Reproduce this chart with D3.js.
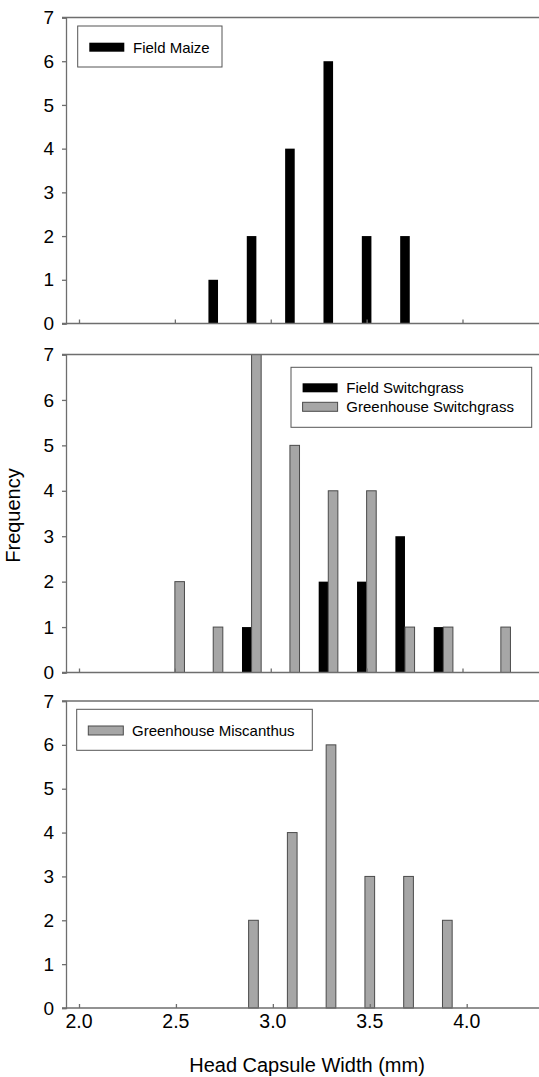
<!DOCTYPE html>
<html>
<head>
<meta charset="utf-8">
<script src="https://cdn.jsdelivr.net/npm/d3@7"></script>
<style>
  body { margin: 0; background: #fff; }
  svg { display: block; font-family: "Liberation Sans", Arial, sans-serif; }
</style>
</head>
<body>
<script>
// head capsule width bins (mm) and frequencies
var maizeWidth = [2.7, 2.9, 3.1, 3.3, 3.5, 3.7],
    maizeFreq = [1, 2, 4, 6, 2, 2];
var fieldSwitchWidth = [2.9, 3.3, 3.5, 3.7, 3.9],
    fieldSwitchFreq = [1, 2, 2, 3, 1];
var ghSwitchWidth = [2.5, 2.7, 2.9, 3.1, 3.3, 3.5, 3.7, 3.9, 4.2],
    ghSwitchFreq = [2, 1, 7, 5, 4, 4, 1, 1, 1];
var miscWidth = [2.9, 3.1, 3.3, 3.5, 3.7, 3.9],
    miscFreq = [2, 4, 6, 3, 3, 2];

var xTicks = [2.0, 2.5, 3.0, 3.5, 4.0],
    yTicks = [0, 1, 2, 3, 4, 5, 6, 7];

var W = 539, H = 1077;
var left = 66, right = 560;
var BLACK = "#000", GREY = "#a6a6a6", AXIS = "#6e6e6e";
var barW = 0.05;

function pairs(xs, ys) { return xs.map(function(d, i) { return {x: d, y: ys[i]}; }); }

var panels = [
  { top: 17.5, bottom: 323.5, x4: 462.5,
    series: [{ name: "Field Maize", fill: BLACK, data: pairs(maizeWidth, maizeFreq), off: -0.5 }],
    legend: { x: 77.7, y: 26, w: 144.3, h: 41 } },
  { top: 354.5, bottom: 672.5, x4: 462.5,
    series: [{ name: "Field Switchgrass", fill: BLACK, data: pairs(fieldSwitchWidth, fieldSwitchFreq), off: -1 },
             { name: "Greenhouse Switchgrass", fill: GREY, data: pairs(ghSwitchWidth, ghSwitchFreq), off: 0 }],
    legend: { x: 291, y: 367.3, w: 240.7, h: 60 } },
  { top: 701, bottom: 1008, x4: 466.7,
    series: [{ name: "Greenhouse Miscanthus", fill: GREY, data: pairs(miscWidth, miscFreq), off: -0.5 }],
    legend: { x: 76.7, y: 709.3, w: 235.6, h: 41 } }
];

var svg = d3.select("body").append("svg")
    .attr("width", W)
    .attr("height", H);

panels.forEach(function(p) {
  var x = d3.scaleLinear().domain([2, 4]).range([79, p.x4]);
  var y = d3.scaleLinear().domain([0, 7]).range([p.bottom, p.top]);
  var g = svg.append("g");

  // bars
  p.series.forEach(function(s) {
    g.selectAll(null)
      .data(s.data)
      .enter().append("rect")
        .attr("x", function(d) { return x(d.x + s.off * barW); })
        .attr("y", function(d) { return y(d.y); })
        .attr("width", x(2 + barW) - x(2))
        .attr("height", function(d) { return y(0) - y(d.y); })
        .attr("fill", s.fill)
        .attr("stroke", s.fill == BLACK ? "none" : "#4a4a4a")
        .attr("stroke-width", 1);
  });

  // y axis
  var ya = g.append("g")
      .attr("transform", "translate(" + left + ",0)")
      .call(d3.axisLeft(y).tickValues(yTicks).tickFormat(d3.format("d")).tickSize(4).tickPadding(8));
  ya.select(".domain").attr("stroke", AXIS).attr("stroke-width", 1.3);
  ya.selectAll(".tick line").attr("stroke", AXIS).attr("stroke-width", 1.3);
  ya.selectAll("text").attr("font-size", 19).attr("fill", "#000")
      .attr("font-family", "'Liberation Sans', Arial, sans-serif");

  // x axis (ticks point inward)
  var xa = g.append("g")
      .attr("transform", "translate(0," + p.bottom + ")")
      .call(d3.axisBottom(x).tickValues(xTicks).tickSize(-4).tickFormat(d3.format(".1f")));
  xa.select(".domain").remove();
  xa.selectAll(".tick line").attr("stroke", AXIS).attr("stroke-width", 1.3);
  xa.selectAll("text").remove();

  g.append("line")
      .attr("x1", left - 4).attr("x2", right)
      .attr("y1", p.bottom).attr("y2", p.bottom)
      .attr("stroke", AXIS).attr("stroke-width", 1.3);
  g.append("line")
      .attr("x1", left - 4).attr("x2", right)
      .attr("y1", p.top).attr("y2", p.top)
      .attr("stroke", AXIS).attr("stroke-width", 1.3);

  // legend
  var L = p.legend;
  var lg = g.append("g").attr("transform", "translate(" + L.x + "," + L.y + ")");
  lg.append("rect")
      .attr("width", L.w).attr("height", L.h)
      .attr("fill", "#fff").attr("stroke", "#555").attr("stroke-width", 1);
  var first = p.series.length == 1 ? 16.7 : 16;
  p.series.forEach(function(s, i) {
    var yy = first + i * 19;
    lg.append("rect")
        .attr("x", 11.6).attr("y", yy).attr("width", 35).attr("height", 9)
        .attr("fill", s.fill)
        .attr("stroke", s.fill == BLACK ? "none" : "#4a4a4a");
    lg.append("text")
        .attr("x", 55.3).attr("y", yy + 10)
        .attr("font-size", 15)
        .text(s.name);
  });

  // x tick labels only on the bottom panel
  if (p === panels[2]) {
    svg.selectAll(null)
      .data(xTicks)
      .enter().append("text")
        .attr("x", function(d) { return x(d); })
        .attr("y", 1028)
        .attr("text-anchor", "middle")
        .attr("font-size", 19.5)
        .text(d3.format(".1f"));
  }
});

svg.append("text")
    .attr("transform", "translate(20,515.5) rotate(-90)")
    .attr("text-anchor", "middle")
    .attr("font-size", 20)
    .text("Frequency");

svg.append("text")
    .attr("x", 307)
    .attr("y", 1072)
    .attr("text-anchor", "middle")
    .attr("font-size", 20)
    .text("Head Capsule Width (mm)");
</script>
</body>
</html>
